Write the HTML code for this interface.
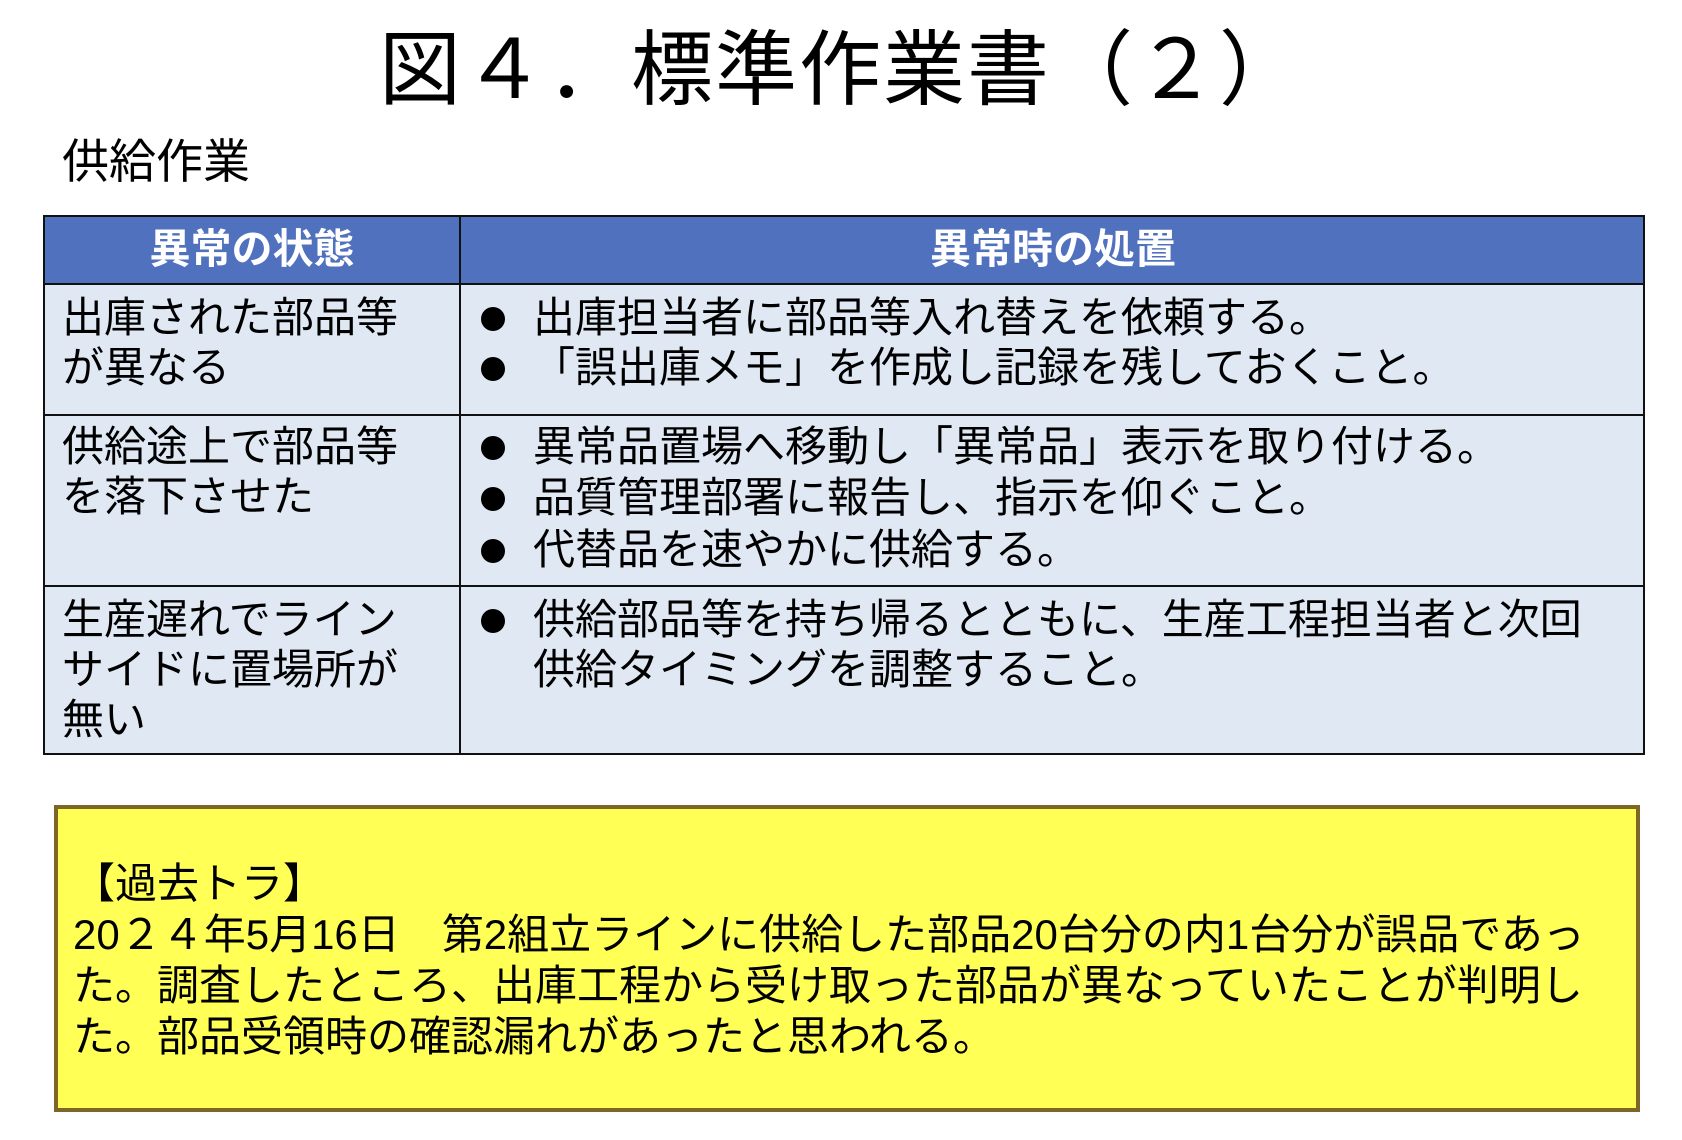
<!DOCTYPE html>
<html><head><meta charset="utf-8"><style>
body{margin:0;width:1682px;height:1140px;background:#fff;position:relative;overflow:hidden;font-family:"Liberation Sans","Noto Sans CJK JP",sans-serif;color:#000}
.a{position:absolute;white-space:nowrap;line-height:1}
.t{font-size:42px}
.h{font-size:41px;font-weight:bold;color:#fff}
.box{position:absolute;box-sizing:border-box}
.b{position:absolute;width:24px;height:24px;border-radius:50%;background:#000;left:481px}
</style></head><body>
<div class="a" style="left:0;width:1682px;text-align:center;top:30px;font-size:82px;letter-spacing:2px">図４．標準作業書（２）</div>
<div class="a" style="left:62px;top:138px;font-size:47px">供給作業</div>

<div class="box" style="left:43px;top:215px;width:1602px;height:540px;background:#dfe8f3;border:2px solid #111"></div>
<div class="box" style="left:43px;top:215px;width:1602px;height:70px;background:#4f71be;border:2px solid #111"></div>
<div class="box" style="left:43px;top:414px;width:1602px;height:2px;background:#111"></div>
<div class="box" style="left:43px;top:585px;width:1602px;height:2px;background:#111"></div>
<div class="box" style="left:459px;top:215px;width:2px;height:540px;background:#111"></div>

<div class="a h" style="left:43px;width:418px;text-align:center;top:229px">異常の状態</div>
<div class="a h" style="left:461px;width:1184px;text-align:center;top:229px">異常時の処置</div>

<div class="a t" style="left:62px;top:297px">出庫された部品等</div>
<div class="a t" style="left:62px;top:347px">が異なる</div>
<div class="a t" style="left:62px;top:426px">供給途上で部品等</div>
<div class="a t" style="left:62px;top:476px">を落下させた</div>
<div class="a t" style="left:62px;top:599px">生産遅れでライン</div>
<div class="a t" style="left:62px;top:649px">サイドに置場所が</div>
<div class="a t" style="left:62px;top:699px">無い</div>

<div class="b" style="top:307px"></div><div class="a t" style="left:533px;top:297px">出庫担当者に部品等入れ替えを依頼する。</div>
<div class="b" style="top:357px"></div><div class="a t" style="left:533px;top:347px">「誤出庫メモ」を作成し記録を残しておくこと。</div>
<div class="b" style="top:436px"></div><div class="a t" style="left:533px;top:426px">異常品置場へ移動し「異常品」表示を取り付ける。</div>
<div class="b" style="top:487px"></div><div class="a t" style="left:533px;top:477px">品質管理部署に報告し、指示を仰ぐこと。</div>
<div class="b" style="top:539px"></div><div class="a t" style="left:533px;top:529px">代替品を速やかに供給する。</div>
<div class="b" style="top:609px"></div><div class="a t" style="left:533px;top:599px">供給部品等を持ち帰るとともに、生産工程担当者と次回</div>
<div class="a t" style="left:533px;top:649px">供給タイミングを調整すること。</div>

<div class="box" style="left:54px;top:805px;width:1586px;height:307px;background:#ffff55;border:4px solid #7f6526"></div>
<div class="a t" style="left:73px;top:863px">【過去トラ】</div>
<div class="a t" style="left:73px;top:914px">20２４年5月16日　第2組立ラインに供給した部品20台分の内1台分が誤品であっ</div>
<div class="a t" style="left:73px;top:965px">た。調査したところ、出庫工程から受け取った部品が異なっていたことが判明し</div>
<div class="a t" style="left:73px;top:1016px">た。部品受領時の確認漏れがあったと思われる。</div>
</body></html>
